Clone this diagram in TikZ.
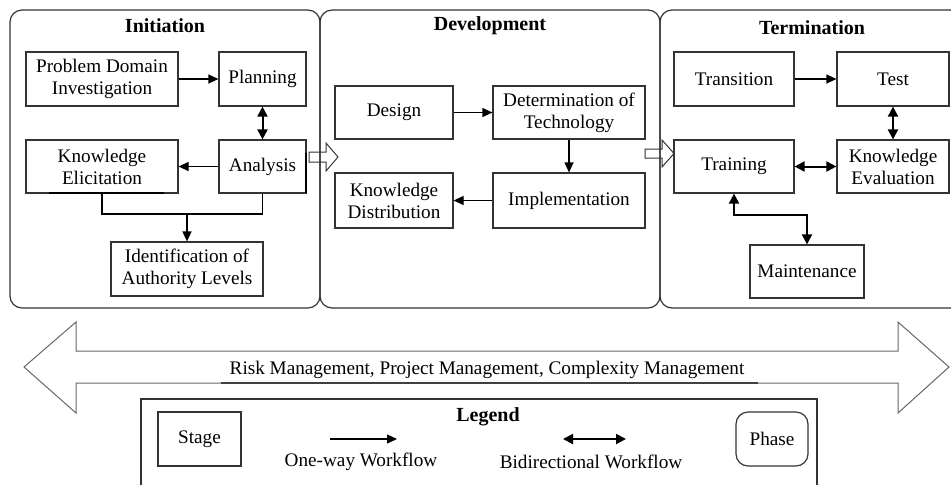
\documentclass[tikz,border=0pt]{standalone}
\usepackage{fontspec}
\setmainfont{Liberation Serif}
\usetikzlibrary{arrows.meta}

\tikzset{
 stage/.style={draw=black!80, line width=0.6pt, align=center, inner sep=1pt},
 phase/.style={draw=black!80, line width=0.6pt, rounded corners=6pt},
 flow/.style={-{Triangle[length=5pt,width=4.5pt]}, line width=0.6pt},
 biflow/.style={{Triangle[length=5pt,width=5pt]}-{Triangle[length=5pt,width=5pt]}, line width=1pt},
 hollow/.style={draw=black!80, line width=0.5pt},
}

\begin{document}
\begin{tikzpicture}[x=0.5pt, y=-0.5pt, font=\fontsize{9.6}{11}\selectfont]
 \useasboundingbox (0,0) rectangle (951,484);

 %phases
 \draw[phase] (10,10) rectangle (320,308);
 \draw[phase] (320,10) rectangle (660,308);
 \draw[phase] (660,10) rectangle (962,308);
 \node[font=\bfseries] (initl) at (165,26) {Initiation};
 \node[font=\bfseries] (devl) at (490,26) {Development};
 \node[font=\bfseries] (terml) at (812,28) {Termination};

 %hand-over arrows
 \draw[hollow] (309,152) -- (326,152) -- (326,143) -- (338,157) -- (326,171) -- (326,162) -- (309,162) -- cycle;
 \draw[hollow] (645,149) -- (662,149) -- (662,140) -- (674,153.5) -- (662,167) -- (662,158) -- (645,158) -- cycle;

 %initiation
 \node[stage, minimum width=76pt, minimum height=27pt] (pdi) at (102,79) {Problem Domain\\Investigation};
 \node[stage, minimum width=43.5pt, minimum height=27pt] (plan) at (262.5,79) {Planning};
 \node[stage, minimum width=76pt, minimum height=26.5pt] (ke) at (102,166.5) {Knowledge\\Elicitation};
 \node[stage, minimum width=43.5pt, minimum height=26.5pt] (ana) at (262.5,166.5) {Analysis};
 \node[stage, minimum width=76pt, minimum height=27pt] (ial) at (187,269) {Identification of\\Authority Levels};
 \draw[line width=1pt] (49,193) -- (164,193);
 \draw[line width=1pt] (306,153) -- (306,193);
 \draw[flow] (pdi) -- (plan);
 \draw[biflow] (plan) -- (ana);
 \draw[flow] (ana) -- (ke);
 \coordinate (ijoin) at (187,214);
 \draw[line width=0.6pt] (ke.south) |- (ijoin) -| (ana.south);
 \draw[flow, line width=0.8pt] (ijoin) -- (ial.north);

 %development
 \node[stage, minimum width=59pt, minimum height=26.5pt] (des) at (394,112.5) {Design};
 \node[stage, minimum width=76pt, minimum height=26.5pt] (dot) at (569,112.5) {Determination of\\Technology};
 \node[stage, minimum width=59pt, minimum height=27.5pt] (kd) at (394,200.5) {Knowledge\\Distribution};
 \node[stage, minimum width=76pt, minimum height=27.5pt] (imp) at (569,200.5) {Implementation};
 \draw[flow] (des) -- (dot);
 \draw[flow] (dot) -- (imp);
 \draw[flow] (imp) -- (kd);

 %termination
 \node[stage, minimum width=60pt, minimum height=27pt] (tra) at (734,79) {Transition};
 \node[stage, minimum width=56pt, minimum height=27pt] (tst) at (893,79) {Test};
 \node[stage, minimum width=60pt, minimum height=26.5pt] (trn) at (734,166.5) {Training};
 \node[stage, minimum width=56pt, minimum height=26.5pt] (kev) at (893,166.5) {Knowledge\\Evaluation};
 \node[stage, minimum width=57pt, minimum height=26.5pt] (mnt) at (807,271.5) {Maintenance};
 \draw[flow] (tra) -- (tst);
 \draw[biflow] (tst) -- (kev);
 \draw[biflow] (trn) -- (kev);
 \draw[biflow] (trn.south) -- ++(0,21) -| (mnt.north);

 %management band
 \draw[draw=black!60, line width=0.5pt] (24,367) -- (76,322) -- (76,351) -- (898,351) -- (898,322) -- (949,367)
   -- (898,413) -- (898,383) -- (76,383) -- (76,413) -- cycle;
 \draw[line width=0.9pt, draw=black!75] (221,383) -- (758,383);
 \node (mgmt) at (487,370) {Risk Management, Project Management, Complexity Management};

 %legend
 \draw[line width=0.6pt, draw=black!80] (141,399) rectangle (817,500);
 \node[font=\bfseries] (legl) at (488,417) {Legend};
 \node[stage, minimum width=41.5pt, minimum height=27pt] (lstage) at (199.5,439) {Stage};
 \coordinate (ow1) at (330,439);
 \coordinate (ow2) at (397,439);
 \draw[flow] (ow1) -- (ow2);
 \node (owl) at (361,462) {One-way Workflow};
 \coordinate (bi1) at (563,439);
 \coordinate (bi2) at (626,439);
 \draw[biflow] (bi1) -- (bi2);
 \node (bil) at (591,462) {Bidirectional Workflow};
 \node[stage, rounded corners=6pt, minimum width=36pt, minimum height=27pt] (lphase) at (772,439) {Phase};
\end{tikzpicture}
\end{document}
